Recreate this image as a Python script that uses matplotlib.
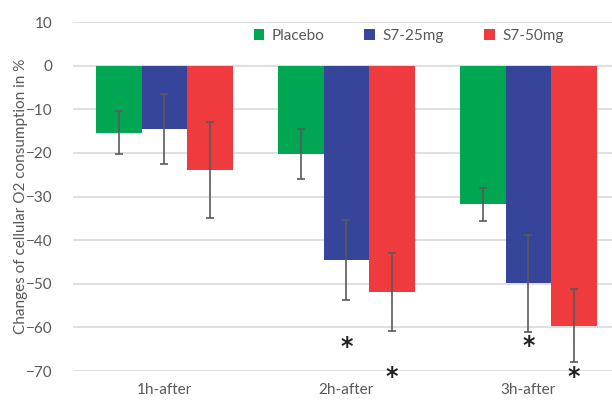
import matplotlib
matplotlib.use("Agg")
import matplotlib.pyplot as plt
import numpy as np

plt.rcParams['font.family'] = ['Lato', 'DejaVu Sans']

categories = ['1h-after', '2h-after', '3h-after']
series = ['Placebo', 'S7-25mg', 'S7-50mg']
means = [
    [-15.3, -20.3, -31.8],
    [-14.5, -44.5, -49.9],
    [-23.8, -51.9, -59.6],
]
errors = [
    [5.0, 5.7, 3.7],
    [8.0, 9.2, 11.2],
    [11.0, 9.0, 8.3],
]
# significance marks: (category index, series index, y position)
stars = [(1, 1, -64.6), (1, 2, -71.3), (2, 1, -64.2), (2, 2, -71.3)]

colors = ['#00a651', '#36459a', '#ef3b3d']
text_gray = '#595959'

fig = plt.figure(figsize=(6.12, 4.0), dpi=100)
ax = fig.add_axes([0.12, 0.0725, 0.892, 0.872])

x = np.arange(len(categories))
w = 0.25
for i, (name, vals, errs) in enumerate(zip(series, means, errors)):
    pos = x + (i - 1) * w
    ax.bar(pos, vals, w, color=colors[i], label=name, zorder=2)
    ax.errorbar(pos, vals, yerr=errs, fmt='none', ecolor='#5a5a5a',
                elinewidth=1.2, capsize=3, capthick=1.2, zorder=3)

for ci, si, yv in stars:
    ax.text(x[ci] + (si - 1) * w, yv, '*', ha='center', va='center',
            fontsize=17, color='#222222', family='DejaVu Sans',
            fontweight='bold', zorder=4)

ax.set_xlim(-0.5, 2.5)
ax.set_ylim(-70, 10)
ax.set_yticks(np.arange(-70, 11, 10))
ax.set_xticks(x)
ax.set_xticklabels(categories)
ax.yaxis.grid(True, color='#d9d9d9', linewidth=1.2, zorder=0)
ax.set_axisbelow(True)
for s in ax.spines.values():
    s.set_visible(False)
ax.tick_params(axis='both', length=0, colors=text_gray, labelsize=11)
ax.tick_params(axis='x', pad=9)
ax.tick_params(axis='y', pad=15)
ax.set_ylabel('Changes of cellular O2 consumption in %', color=text_gray,
              fontsize=11)
ax.yaxis.set_label_coords(-0.084, 0.5)

ax.legend(loc='upper left', bbox_to_anchor=(0.305, 1.02), ncol=3,
          frameon=False, fontsize=11, handlelength=0.7, handleheight=0.7,
          columnspacing=2.6, handletextpad=0.5, labelcolor=text_gray)

fig.savefig('out.png', dpi=100)
